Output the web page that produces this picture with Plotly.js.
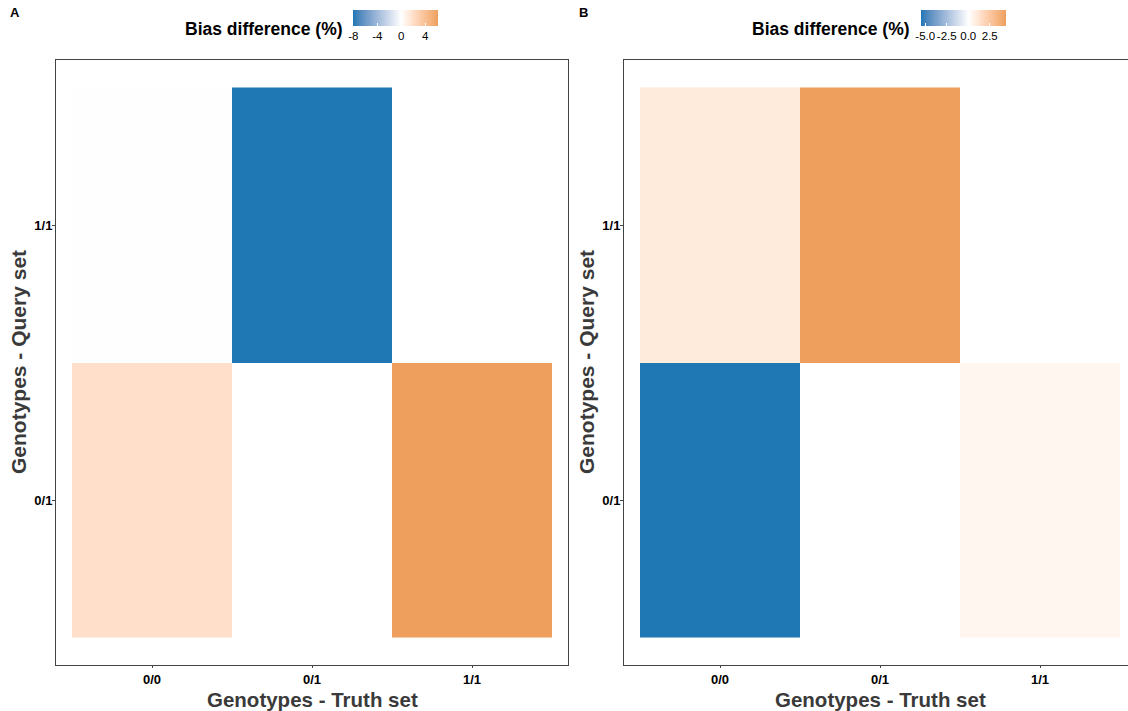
<!DOCTYPE html>
<html>
<head>
<meta charset="utf-8">
<script src="https://cdn.plot.ly/plotly-3.0.1.min.js"></script>
<style>
  html, body { margin: 0; padding: 0; background: #ffffff; }
  #chart { width: 1128px; height: 711px; }
</style>
</head>
<body>
<div id="chart"></div>
<script>
// Genotype categories on each axis
const truthGenotypes = ['0/0', '0/1', '1/1'];
const queryGenotypes = ['0/1', '1/1'];

// Bias difference (%) per tile, rows follow queryGenotypes, columns truthGenotypes
const biasA = [
  [2.0, 0.0, 6.13],
  [-0.05, -8.05, null]
];
const biasB = [
  [-5.55, 0.0, 0.4],
  [0.9, 4.33, null]
];

// Colour bar ticks for each panel
const ticksA = [-8, -4, 0, 4];
const tickTextA = ['-8', '-4', '0', '4'];
const ticksB = [-5, -2.5, 0, 2.5];
const tickTextB = ['-5.0', '-2.5', '0.0', '2.5'];

const W = 1128, H = 711;
const M = { l: 0, r: 0, t: 60, b: 46 };
const plotH = H - M.t - M.b;
const px = x => x / W;
const py = y => (H - M.b - y) / plotH;

const LOW = [31, 119, 180], MID = [255, 255, 255], HIGH = [238, 159, 94];
const FONT = 'Liberation Sans, Arial, Helvetica, sans-serif';

// --- CIE Lab helpers so the gradient blends like a perceptual diverging scale
function srgbToLin(c) { c /= 255; return c <= 0.04045 ? c / 12.92 : Math.pow((c + 0.055) / 1.055, 2.4); }
function linToSrgb(c) {
  const v = c <= 0.0031308 ? 12.92 * c : 1.055 * Math.pow(c, 1 / 2.4) - 0.055;
  return Math.max(0, Math.min(255, Math.round(v * 255)));
}
const WP = [0.95047, 1.0, 1.08883];
function fLab(t) { return t > 0.008856 ? Math.cbrt(t) : 7.787 * t + 16 / 116; }
function fInv(t) { return t > 0.206893 ? t * t * t : (t - 16 / 116) / 7.787; }
function rgbToLab(rgb) {
  const [r, g, b] = rgb.map(srgbToLin);
  const X = (0.4124 * r + 0.3576 * g + 0.1805 * b) / WP[0];
  const Y = (0.2126 * r + 0.7152 * g + 0.0722 * b) / WP[1];
  const Z = (0.0193 * r + 0.1192 * g + 0.9505 * b) / WP[2];
  const fx = fLab(X), fy = fLab(Y), fz = fLab(Z);
  return [116 * fy - 16, 500 * (fx - fy), 200 * (fy - fz)];
}
function labToRgb(lab) {
  const fy = (lab[0] + 16) / 116, fx = fy + lab[1] / 500, fz = fy - lab[2] / 200;
  const X = fInv(fx) * WP[0], Y = fInv(fy) * WP[1], Z = fInv(fz) * WP[2];
  const r = 3.2406 * X - 1.5372 * Y - 0.4986 * Z;
  const g = -0.9689 * X + 1.8758 * Y + 0.0415 * Z;
  const b = 0.0557 * X - 0.2040 * Y + 1.0570 * Z;
  return [linToSrgb(r), linToSrgb(g), linToSrgb(b)];
}
function mixLab(a, b, t) {
  const la = rgbToLab(a), lb = rgbToLab(b);
  const c = labToRgb(la.map((v, i) => v + (lb[i] - v) * t));
  return 'rgb(' + c.join(',') + ')';
}

function divergingScale(zmin, zmax) {
  const m = -zmin / (zmax - zmin);
  const steps = 16;
  const scale = [];
  for (let i = 0; i <= steps; i++) {
    const t = i / steps;
    scale.push([m * t, mixLab(LOW, MID, t)]);
  }
  for (let i = 1; i <= steps; i++) {
    const t = i / steps;
    scale.push([m + (1 - m) * t, mixLab(MID, HIGH, t)]);
  }
  scale[scale.length - 1][0] = 1;
  return scale;
}

function zRange(z) {
  const v = z.flat().filter(d => d !== null);
  return [Math.min(...v), Math.max(...v)];
}

function heat(z, xa, ya, cbX, tv, tt, tickSize) {
  const [zmin, zmax] = zRange(z);
  return {
    type: 'heatmap',
    x: truthGenotypes,
    y: queryGenotypes,
    z: z,
    xaxis: xa,
    yaxis: ya,
    zmin: zmin,
    zmax: zmax,
    colorscale: divergingScale(zmin, zmax),
    hoverinfo: 'skip',
    colorbar: {
      orientation: 'h',
      xref: 'container',
      yref: 'container',
      x: cbX / W,
      xanchor: 'left',
      y: (H - 10) / H,
      yanchor: 'top',
      len: 85,
      lenmode: 'pixels',
      thickness: 16,
      thicknessmode: 'pixels',
      xpad: 0,
      ypad: 0,
      outlinewidth: 0,
      ticks: 'inside',
      ticklen: 3,
      tickcolor: '#ffffff',
      tickvals: tv,
      ticktext: tt,
      tickangle: 0,
      ticklabelposition: 'outside bottom',
      tickfont: { family: FONT, size: tickSize, color: '#000000' }
    }
  };
}

const data = [
  heat(biasA, 'x', 'y', 353, ticksA, tickTextA, 11.5),
  heat(biasB, 'x2', 'y2', 920.5, ticksB, tickTextB, 11.5)
];

const axisBase = {
  type: 'category',
  showgrid: false,
  zeroline: false,
  showline: true,
  linecolor: '#444444',
  linewidth: 1,
  mirror: true,
  ticks: 'outside',
  ticklen: 3,
  tickcolor: '#444444',
  tickfont: { family: FONT, size: 13, color: '#000000', weight: 'bold' },
  fixedrange: true
};

const layout = {
  width: W,
  height: H,
  margin: M,
  paper_bgcolor: '#ffffff',
  plot_bgcolor: '#ffffff',
  showlegend: false,
  xaxis: Object.assign({}, axisBase, { domain: [px(56), px(568)], range: [-0.6, 2.6], anchor: 'y', ticklen: 2 }),
  yaxis: Object.assign({}, axisBase, { domain: [0, 1], range: [-0.6, 1.6], anchor: 'x', ticklabelstandoff: -3 }),
  xaxis2: Object.assign({}, axisBase, { domain: [px(624), 1], range: [-0.6, 2.55], anchor: 'y2', ticklen: 2 }),
  yaxis2: Object.assign({}, axisBase, { domain: [0, 1], range: [-0.6, 1.6], anchor: 'x2', mirror: false, ticklabelstandoff: -3 }),
  annotations: [
    { text: '<b>A</b>', x: px(15), y: py(13), xref: 'paper', yref: 'paper', showarrow: false,
      xanchor: 'center', yanchor: 'middle', font: { family: FONT, size: 13, color: '#000000' } },
    { text: '<b>B</b>', x: px(583), y: py(13), xref: 'paper', yref: 'paper', showarrow: false,
      xanchor: 'center', yanchor: 'middle', font: { family: FONT, size: 13, color: '#000000' } },
    { text: '<b>Bias difference (%)</b>', x: px(345), y: py(29), xref: 'paper', yref: 'paper', showarrow: false,
      xanchor: 'right', yanchor: 'middle', font: { family: FONT, size: 17.5, color: '#000000' } },
    { text: '<b>Bias difference (%)</b>', x: px(912), y: py(29), xref: 'paper', yref: 'paper', showarrow: false,
      xanchor: 'right', yanchor: 'middle', font: { family: FONT, size: 17.5, color: '#000000' } },
    { text: '<b>Genotypes - Truth set</b>', x: px(312), y: py(699), xref: 'paper', yref: 'paper', showarrow: false,
      xanchor: 'center', yanchor: 'middle', font: { family: FONT, size: 20.5, color: '#3a3a3a' } },
    { text: '<b>Genotypes - Truth set</b>', x: px(880), y: py(699), xref: 'paper', yref: 'paper', showarrow: false,
      xanchor: 'center', yanchor: 'middle', font: { family: FONT, size: 20.5, color: '#3a3a3a' } },
    { text: '<b>Genotypes - Query set</b>', x: px(18), y: py(362), xref: 'paper', yref: 'paper', showarrow: false,
      xanchor: 'center', yanchor: 'middle', textangle: -90, font: { family: FONT, size: 21, color: '#3a3a3a' } },
    { text: '<b>Genotypes - Query set</b>', x: px(586), y: py(362), xref: 'paper', yref: 'paper', showarrow: false,
      xanchor: 'center', yanchor: 'middle', textangle: -90, font: { family: FONT, size: 21, color: '#3a3a3a' } }
  ]
};

Plotly.newPlot('chart', data, layout, { staticPlot: true, displayModeBar: false });
</script>
</body>
</html>
